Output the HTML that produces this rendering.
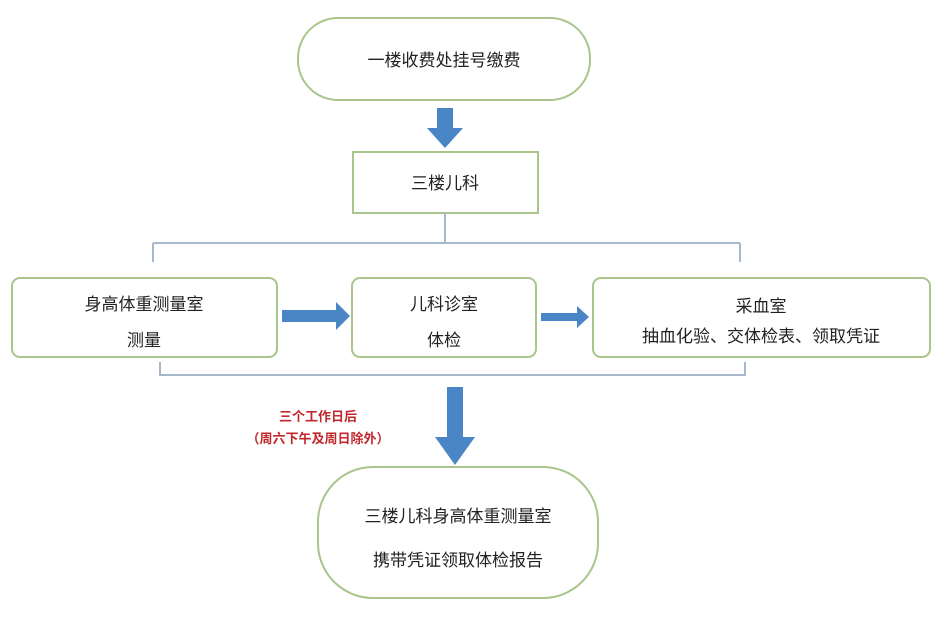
<!DOCTYPE html>
<html><head><meta charset="utf-8"><style>
body{margin:0;background:#fff;}
</style></head><body>
<svg width="940" height="618" xmlns="http://www.w3.org/2000/svg" font-family="Liberation Sans, Noto Sans CJK SC, sans-serif">
<rect width="940" height="618" fill="#fff"/>
<g fill="#fff" stroke="#a9c58c" stroke-width="2">
<rect x="298" y="18" width="292" height="82" rx="40"/>
<rect x="353" y="152" width="185" height="61"/>
<rect x="12" y="278" width="265" height="79" rx="8"/>
<rect x="352" y="278" width="184" height="79" rx="8"/>
<rect x="593" y="278" width="337" height="79" rx="8"/>
<rect x="318" y="467" width="280" height="131" rx="55"/>
</g>
<g fill="none" stroke="#a8b8cc" stroke-width="2">
<path d="M445 213V243M153 243H740M153 243V262M740 243V262"/>
<path d="M160 362V375H745V362"/>
</g>
<g fill="#4a86c5">
<path d="M437 108h16v20h10l-18 20l-18-20h10z"/>
<path d="M447 387h16v50h12l-20 28l-20-28h12z"/>
<path d="M282 310h54v-8l14 14l-14 14v-8h-54z"/>
<path d="M541 313h36v-7l12 11l-12 11v-7h-36z"/>
</g>
<g font-size="17" fill="#222" text-anchor="middle">
<text x="444" y="66">一楼收费处挂号缴费</text>
<text x="445" y="189">三楼儿科</text>
<text x="144" y="310">身高体重测量室</text>
<text x="144" y="346">测量</text>
<text x="444" y="310">儿科诊室</text>
<text x="444" y="346">体检</text>
<text x="761" y="312">采血室</text>
<text x="761" y="342">抽血化验、交体检表、领取凭证</text>
<text x="458" y="522">三楼儿科身高体重测量室</text>
<text x="458" y="566">携带凭证领取体检报告</text>
</g>
<g font-size="13" fill="#c0282d" font-weight="bold" text-anchor="middle">
<text x="318" y="421">三个工作日后</text>
<text x="318" y="443">（周六下午及周日除外）</text>
</g>
</svg>
</body></html>
